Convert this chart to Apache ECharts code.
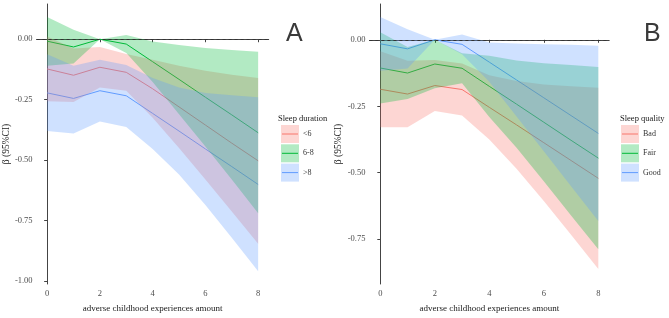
<!DOCTYPE html>
<html>
<head>
<meta charset="utf-8">
<script src="https://cdn.jsdelivr.net/npm/echarts@6/dist/echarts.min.js"></script>
<style>
  html, body { margin: 0; padding: 0; background: #fff; }
  #chart { width: 669px; height: 318px; }
</style>
</head>
<body>
<div id="chart"></div>
<script>
// ACE amount on the x axis
const xs = [0, 1, 2, 3, 4, 5, 6, 7, 8]
const xTicks = [0, 2, 4, 6, 8]
const yTicksA = [-1, -0.75, -0.5, -0.25, 0]
const yTicksB = [-0.75, -0.5, -0.25, 0]

// panel A - sleep duration
const durShortMean = [-0.123, -0.149, -0.116, -0.137, -0.205, -0.28, -0.355, -0.43, -0.503]
const durShortLow = [-0.257, -0.26, -0.2, -0.213, -0.325, -0.45, -0.58, -0.713, -0.846]
const durShortHigh = [0.011, -0.038, -0.032, -0.061, -0.085, -0.11, -0.13, -0.147, -0.16]
const durMidMean = [-0.008, -0.032, 0, -0.02, -0.093, -0.166, -0.24, -0.313, -0.387]
const durMidLow = [-0.11, -0.1, 0, -0.057, -0.177, -0.31, -0.444, -0.58, -0.72]
const durMidHigh = [0.092, 0.039, 0, 0.017, -0.009, -0.024, -0.036, -0.045, -0.052]
const durLongMean = [-0.222, -0.245, -0.213, -0.234, -0.307, -0.38, -0.454, -0.527, -0.601]
const durLongLow = [-0.38, -0.39, -0.34, -0.363, -0.454, -0.56, -0.686, -0.822, -0.96]
const durLongHigh = [-0.062, -0.11, -0.085, -0.107, -0.16, -0.2, -0.222, -0.232, -0.24]

// panel B - sleep quality
const qualBadMean = [-0.186, -0.204, -0.172, -0.187, -0.254, -0.32, -0.387, -0.454, -0.521]
const qualBadLow = [-0.329, -0.329, -0.268, -0.285, -0.375, -0.485, -0.606, -0.733, -0.862]
const qualBadHigh = [-0.043, -0.079, -0.076, -0.089, -0.133, -0.155, -0.168, -0.175, -0.18]
const qualFairMean = [-0.106, -0.125, -0.091, -0.107, -0.175, -0.242, -0.31, -0.378, -0.445]
const qualFairLow = [-0.24, -0.223, -0.182, -0.163, -0.29, -0.406, -0.532, -0.661, -0.788]
const qualFairHigh = [0.028, -0.027, 0, -0.051, -0.06, -0.078, -0.088, -0.095, -0.102]
const qualGoodMean = [-0.015, -0.034, 0, -0.017, -0.084, -0.151, -0.218, -0.285, -0.352]
const qualGoodLow = [-0.116, -0.108, 0, -0.054, -0.158, -0.288, -0.419, -0.551, -0.682]
const qualGoodHigh = [0.086, 0.04, 0, 0.02, -0.01, -0.014, -0.017, -0.019, -0.022]

const durNames = ['<6', '6-8', '>8']
const qualNames = ['Bad', 'Fair', 'Good']

const RED = '#F8766D'
const GREEN = '#00BA38'
const BLUE = '#619CFF'
const SERIF = '"Liberation Serif", "DejaVu Serif", serif'

const chart = echarts.init(document.getElementById('chart'), null, { renderer: 'canvas' })

function lineSeries(idx, name, mean, color) {
  return {
    name: name,
    type: 'line',
    xAxisIndex: idx,
    yAxisIndex: idx,
    data: xs.map((x, i) => [x, mean[i]]),
    showSymbol: false,
    silent: true,
    z: 2,
    lineStyle: { color: color, width: 1 },
    animation: false
  }
}

function ribbonSeries(idx, lo, hi, color) {
  return {
    type: 'custom',
    xAxisIndex: idx,
    yAxisIndex: idx,
    data: xs.map((x, i) => [x, lo[i], hi[i]]),
    encode: { x: 0, y: [1, 2] },
    silent: true,
    z: 3,
    animation: false,
    renderItem(params, api) {
      if (params.dataIndex !== 0) return
      const pts = []
      for (let i = 0; i < xs.length; i++) pts.push(api.coord([xs[i], hi[i]]))
      for (let i = xs.length - 1; i >= 0; i--) pts.push(api.coord([xs[i], lo[i]]))
      return {
        type: 'polygon',
        shape: { points: pts },
        style: { fill: color, opacity: 0.3 }
      }
    }
  }
}

function zeroLine(idx) {
  return {
    type: 'line',
    xAxisIndex: idx,
    yAxisIndex: idx,
    data: [],
    z: 4,
    markLine: {
      silent: true,
      symbol: 'none',
      label: { show: false },
      lineStyle: { color: '#333', type: [3, 3], width: 1 },
      data: [{ yAxis: 0 }]
    }
  }
}

function xAxisOf(idx) {
  return {
    type: 'value',
    gridIndex: idx,
    min: -0.4,
    max: 8.4,
    name: 'adverse childhood experiences amount',
    nameLocation: 'middle',
    nameGap: 20,
    nameTextStyle: { fontFamily: SERIF, fontSize: 9, color: '#1a1a1a' },
    axisLine: { lineStyle: { color: '#444', width: 1 } },
    axisTick: { length: 3, customValues: xTicks, lineStyle: { color: '#444' } },
    axisLabel: { customValues: xTicks, fontFamily: SERIF, fontSize: 8.5, color: '#4d4d4d', margin: 5 },
    splitLine: { show: false }
  }
}

function yAxisOf(idx, min, max, ticks) {
  return {
    type: 'value',
    gridIndex: idx,
    min: min,
    max: max,
    name: 'β (95%CI)',
    nameLocation: 'middle',
    nameGap: 22,
    nameRotate: 90,
    nameTextStyle: { fontFamily: SERIF, fontSize: 9.5, color: '#1a1a1a' },
    axisLine: { show: true, lineStyle: { color: '#444', width: 1 } },
    axisTick: { show: true, length: 3, customValues: ticks, lineStyle: { color: '#444' } },
    axisLabel: {
      customValues: ticks,
      fontFamily: SERIF,
      fontSize: 8.5,
      color: '#4d4d4d',
      margin: 4,
      formatter: v => v.toFixed(2)
    },
    splitLine: { show: false }
  }
}

function legendBlock(left, titleLeft, title, names) {
  const colors = [RED, GREEN, BLUE]
  const els = [{
    type: 'text',
    left: titleLeft,
    top: 114,
    style: { text: title, font: '8.5px ' + SERIF, fill: '#1a1a1a' }
  }]
  names.forEach((n, i) => {
    const top = 125 + i * 19.3
    els.push({
      type: 'rect',
      shape: { x: left, y: top, width: 18, height: 18 },
      style: { fill: colors[i], opacity: 0.3 }
    })
    els.push({
      type: 'line',
      shape: { x1: left + 1, y1: top + 9, x2: left + 17, y2: top + 9 },
      style: { stroke: colors[i], lineWidth: 1 }
    })
    els.push({
      type: 'text',
      x: left + 22,
      y: top + 9,
      style: { text: n, font: '8px ' + SERIF, fill: '#333', verticalAlign: 'middle' }
    })
  })
  return els
}

const option = {
  backgroundColor: '#fff',
  animation: false,
  grid: [
    { left: 33.3, top: 4, width: 235.4, height: 288.5 },
    { left: 369.4, top: 4, width: 239.8, height: 289.3 }
  ],
  xAxis: [xAxisOf(0), xAxisOf(1)],
  yAxis: [
    yAxisOf(0, -1.0129, 0.1458, yTicksA),
    yAxisOf(1, -0.9185, 0.1347, yTicksB)
  ],
  series: [
    lineSeries(0, durNames[0], durShortMean, RED),
    lineSeries(0, durNames[1], durMidMean, GREEN),
    lineSeries(0, durNames[2], durLongMean, BLUE),
    ribbonSeries(0, durShortLow, durShortHigh, RED),
    ribbonSeries(0, durMidLow, durMidHigh, GREEN),
    ribbonSeries(0, durLongLow, durLongHigh, BLUE),
    zeroLine(0),
    lineSeries(1, qualNames[0], qualBadMean, RED),
    lineSeries(1, qualNames[1], qualFairMean, GREEN),
    lineSeries(1, qualNames[2], qualGoodMean, BLUE),
    ribbonSeries(1, qualBadLow, qualBadHigh, RED),
    ribbonSeries(1, qualFairLow, qualFairHigh, GREEN),
    ribbonSeries(1, qualGoodLow, qualGoodHigh, BLUE),
    zeroLine(1)
  ],
  graphic: [
    { type: 'text', left: 286, top: 22, style: { text: 'A', font: '25px "Liberation Sans", Arial, sans-serif', fill: '#3a3a3a' } },
    { type: 'text', left: 644, top: 22, style: { text: 'B', font: '25px "Liberation Sans", Arial, sans-serif', fill: '#3a3a3a' } },
    ...legendBlock(281, 278, 'Sleep duration', durNames),
    ...legendBlock(621, 620, 'Sleep quality', qualNames)
  ]
}

chart.setOption(option)
</script>
</body>
</html>
